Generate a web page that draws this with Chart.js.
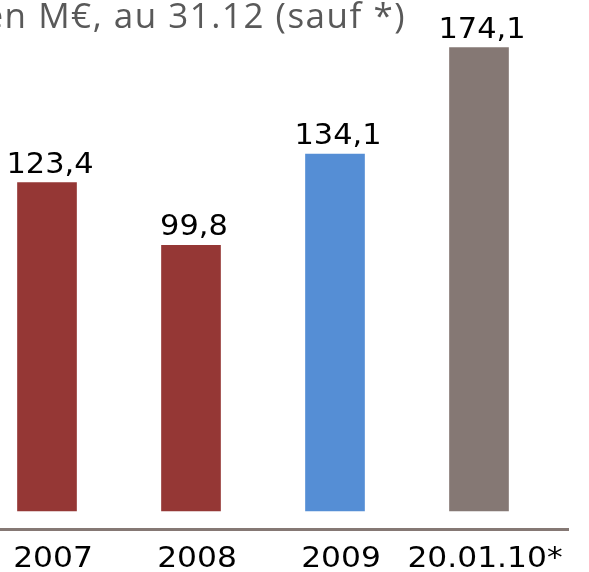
<!DOCTYPE html>
<html>
<head>
<meta charset="utf-8">
<script src="https://cdn.jsdelivr.net/npm/chart.js@4.4.1/dist/chart.umd.min.js"></script>
<style>
  html, body { margin: 0; padding: 0; background: #fff; }
  #wrap { width: 589px; height: 572px; }
</style>
</head>
<body>
<div id="wrap"><canvas id="chart" width="589" height="572"></canvas></div>
<script>
const categories = ["2007", "2008", "2009", "20.01.10*"];
const values = [123.4, 99.8, 134.1, 174.1];
const valueLabels = ["123,4", "99,8", "134,1", "174,1"];
const titleText = "en M€, au 31.12 (sauf *)";

const barColors = ["#953735", "#953735", "#558ED5", "#857874"];

// the source font (Verdana-like) is a bit wider than DejaVu Sans
function wideText(ctx, text, x, y, sx) {
    ctx.save();
    ctx.translate(x, y);
    ctx.scale(sx, 1);
    ctx.fillText(text, 0, 0);
    ctx.restore();
}

// title (cut at the left, as in the source), baseline line and category labels
const decorPlugin = {
    id: "decor",
    afterDraw(chart) {
        const ctx = chart.ctx;
        const area = chart.chartArea;
        const xScale = chart.scales.x;
        ctx.save();
        ctx.fillStyle = "#595959";
        ctx.font = "35px 'Open Sans'";
        ctx.letterSpacing = "1.5px";
        ctx.textAlign = "right";
        ctx.textBaseline = "alphabetic";
        ctx.fillText(titleText, 406, 28);
        ctx.letterSpacing = "0px";

        ctx.strokeStyle = "#857874";
        ctx.lineWidth = 3;
        ctx.beginPath();
        ctx.moveTo(0, area.bottom + 18.5);
        ctx.lineTo(569, area.bottom + 18.5);
        ctx.stroke();

        ctx.fillStyle = "#000";
        ctx.font = "29px 'DejaVu Sans'";
        ctx.textAlign = "center";
        categories.forEach((c, i) => {
            wideText(ctx, c, xScale.getPixelForValue(i) + 6, area.bottom + 56, 1.08);
        });
        ctx.restore();
    }
};

const valueLabelPlugin = {
    id: "valueLabels",
    afterDatasetsDraw(chart) {
        const ctx = chart.ctx;
        const meta = chart.getDatasetMeta(0);
        ctx.save();
        ctx.fillStyle = "#000";
        ctx.font = "29px 'DejaVu Sans'";
        ctx.textAlign = "center";
        ctx.textBaseline = "alphabetic";
        meta.data.forEach((bar, i) => {
            wideText(ctx, valueLabels[i], bar.x + 3, bar.y - 10, 1.05);
        });
        ctx.restore();
    }
};

new Chart(document.getElementById("chart"), {
    type: "bar",
    data: {
        labels: categories,
        datasets: [{
            data: values,
            backgroundColor: barColors,
            borderWidth: 0,
            barThickness: 59,
            clip: false
        }]
    },
    options: {
        responsive: false,
        animation: false,
        layout: { padding: { left: 47, right: 110, top: 0, bottom: 61 } },
        plugins: {
            legend: { display: false },
            tooltip: { enabled: false }
        },
        scales: {
            x: {
                display: false,
                offset: false
            },
            y: {
                display: false,
                min: 0,
                max: 192
            }
        }
    },
    plugins: [decorPlugin, valueLabelPlugin]
});
</script>
</body>
</html>
